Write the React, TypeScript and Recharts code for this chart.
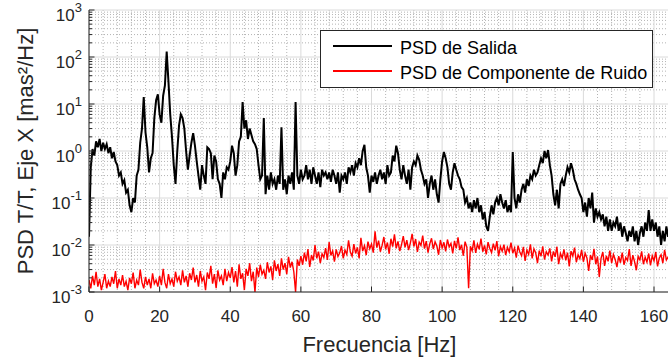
import { LineChart, Line, XAxis, YAxis, CartesianGrid } from "recharts";

const FONT = '"Liberation Sans", Arial, Helvetica, sans-serif';
const AXIS = "#262626";

// muestras cada 0.5 Hz, desde 0 Hz
const STEP_HZ = 0.5;

// PSD de Salida (mas^2/Hz), una fila = 10 Hz
const SALIDA = [
  0.015, 0.45, 1.1, 0.8, 1.6, 1.2, 1.8, 1.0, 1.5, 1.1, 1.4, 0.9, 1.2, 0.7, 0.95, 0.6, 0.5, 0.3, 0.35, 0.2,
  0.24, 0.13, 0.15, 0.07, 0.05, 0.1, 0.08, 0.3, 0.4, 1.5, 3.0, 14, 2.5, 1.2, 0.35, 0.7, 0.9, 5, 12, 16,
  6, 4, 15, 25, 130, 30, 6, 2, 0.5, 0.2, 1.0, 3.5, 6, 5, 3, 1.0, 0.4, 0.8, 1.5, 2.4,
  1.3, 0.6, 0.3, 0.15, 0.5, 0.3, 0.2, 1.2, 1.1, 0.9, 0.25, 0.8, 0.6, 0.25, 0.2, 0.1, 0.35, 0.25, 0.45, 0.4,
  0.6, 1.3, 0.9, 0.3, 0.5, 1.6, 2.0, 11, 3, 4.5, 1.8, 3.0, 2.2, 1.6, 1.4, 1.1, 0.5, 0.25, 0.3, 5,
  0.12, 0.3, 0.15, 0.35, 0.2, 0.25, 0.15, 0.3, 0.2, 3.2, 0.15, 0.25, 0.12, 0.3, 0.2, 0.35, 0.15, 11, 0.3, 0.2,
  0.4, 0.25, 0.3, 0.5, 0.25, 0.4, 0.2, 0.45, 0.3, 0.2, 0.35, 0.17, 0.4, 0.3, 0.35, 0.25, 0.35, 0.22, 0.4, 0.3,
  0.2, 0.35, 0.13, 0.3, 0.25, 0.35, 0.2, 0.45, 0.35, 0.5, 0.3, 0.55, 0.45, 0.7, 0.5, 1.0, 1.35, 0.45, 0.3, 0.13,
  0.3, 0.22, 0.35, 0.2, 0.3, 0.4, 0.25, 0.35, 0.2, 0.5, 0.3, 0.35, 0.8, 0.6, 1.3, 0.9, 0.4, 0.25, 0.5, 0.3,
  0.2, 0.4, 0.15, 0.45, 0.6, 0.5, 0.8, 0.65, 0.4, 0.3, 0.2, 0.25, 0.1, 0.2, 0.3, 0.15, 0.25, 0.12, 0.08, 0.25,
  0.6, 0.95, 0.7, 0.45, 0.2, 0.15, 0.35, 0.55, 0.4, 0.3, 0.25, 0.17, 0.15, 0.08, 0.1, 0.06, 0.08, 0.05, 0.09, 0.06,
  0.1, 0.05, 0.07, 0.035, 0.05, 0.025, 0.02, 0.04, 0.07, 0.045, 0.08, 0.1, 0.07, 0.12, 0.08, 0.06, 0.09, 0.05, 0.07, 0.05,
  0.95, 0.1, 0.06, 0.12, 0.08, 0.15, 0.2, 0.13, 0.25, 0.18, 0.3, 0.25, 0.4, 0.3, 0.35, 0.5, 0.7, 0.55, 1.0, 0.7,
  1.05, 0.5, 0.3, 0.12, 0.07, 0.15, 0.06, 0.2, 0.25, 0.18, 0.3, 0.45, 0.35, 0.55, 0.4, 0.25, 0.2, 0.15, 0.12, 0.1,
  0.05, 0.08, 0.04, 0.1, 0.06, 0.13, 0.03, 0.06, 0.04, 0.05, 0.035, 0.045, 0.025, 0.04, 0.02, 0.035, 0.02, 0.03, 0.025, 0.04,
  0.02, 0.03, 0.015, 0.025, 0.018, 0.012, 0.02, 0.015, 0.025, 0.012, 0.02, 0.01, 0.018, 0.025, 0.015, 0.03, 0.02, 0.055, 0.02, 0.035,
  0.02, 0.03, 0.015, 0.025, 0.01, 0.02, 0.012, 0.025, 0.015, 0.02,
];

// PSD de Componente de Ruido (mas^2/Hz)
const RUIDO = [
  0.0018, 0.0012, 0.0022, 0.0014, 0.0027, 0.0013, 0.0019, 0.0011, 0.0016, 0.0024, 0.0012, 0.0017, 0.0013, 0.0021, 0.0015, 0.0028, 0.0012, 0.0019, 0.0014, 0.0023,
  0.0013, 0.0017, 0.0011, 0.002, 0.0015, 0.0026, 0.0012, 0.0018, 0.0014, 0.003, 0.0016, 0.0012, 0.0021, 0.0014, 0.0019, 0.0012, 0.0025, 0.0015, 0.0018, 0.0013,
  0.0022, 0.0014, 0.0031, 0.0016, 0.0012, 0.0024, 0.0015, 0.0019, 0.0013, 0.0027, 0.0017, 0.0021, 0.0014, 0.0029, 0.0016, 0.0022, 0.0013, 0.0025, 0.0018, 0.0033,
  0.0016, 0.0023, 0.0013, 0.0028, 0.0017, 0.0021, 0.0011, 0.0026, 0.0019, 0.0036, 0.0015, 0.0024, 0.0012, 0.0029, 0.0018, 0.0022, 0.0014, 0.0031, 0.0017, 0.0026,
  0.002, 0.0034, 0.0016, 0.0028, 0.0013, 0.0039, 0.0019, 0.0025, 0.0011, 0.0031, 0.0022, 0.0041, 0.0017, 0.0027, 0.001, 0.0033, 0.0021, 0.0038, 0.0024, 0.0029,
  0.0019, 0.0043, 0.0026, 0.0035, 0.0018, 0.0047, 0.0028, 0.0039, 0.0022, 0.0052, 0.003, 0.0041, 0.0024, 0.0056, 0.0033, 0.0044, 0.0027, 0.001, 0.0049, 0.0036,
  0.0058, 0.0038, 0.0069, 0.0045, 0.0082, 0.0034, 0.0061, 0.0047, 0.0099, 0.0052, 0.0072, 0.0041, 0.0065, 0.0054, 0.0086, 0.0048, 0.0115, 0.006, 0.0075, 0.0044,
  0.0081, 0.0057, 0.0068, 0.0095, 0.0052, 0.0078, 0.0063, 0.0125, 0.0071, 0.0058, 0.0104, 0.0066, 0.0089, 0.0052, 0.0142, 0.0074, 0.0096, 0.0061, 0.0118, 0.0083,
  0.0105, 0.0069, 0.0195, 0.0088, 0.0124, 0.0072, 0.0098, 0.0148, 0.0081, 0.0113, 0.0065, 0.0136, 0.0092, 0.0168, 0.0085, 0.0119, 0.0074, 0.0102, 0.0155, 0.0089,
  0.0127, 0.0078, 0.011, 0.0172, 0.0093, 0.0134, 0.0071, 0.0115, 0.0098, 0.0158, 0.0084, 0.0121, 0.0069, 0.0106, 0.0139, 0.0082, 0.0117, 0.0095, 0.0062, 0.0128,
  0.0087, 0.0114, 0.0073, 0.0131, 0.0091, 0.0108, 0.0066, 0.0122, 0.0085, 0.0146, 0.0078, 0.0101, 0.0059, 0.0118, 0.0089, 0.0012, 0.0094, 0.0075, 0.0126, 0.0068,
  0.0104, 0.0081, 0.0137, 0.0072, 0.0098, 0.0063, 0.0115, 0.0084, 0.0069, 0.0107, 0.0077, 0.0121, 0.0058, 0.0093, 0.0074, 0.0102, 0.0061, 0.0089, 0.0071, 0.0112,
  0.0067, 0.0086, 0.0054, 0.0097, 0.0071, 0.0059, 0.0091, 0.0046, 0.0078, 0.0063, 0.0103, 0.0052, 0.0083, 0.0068, 0.0041, 0.0076, 0.0058, 0.0094, 0.0049, 0.0072,
  0.0061, 0.0085, 0.0045, 0.0073, 0.0056, 0.0092, 0.0039, 0.0066, 0.0053, 0.0081, 0.0047, 0.0069, 0.0035, 0.0074, 0.0058, 0.0088, 0.0043, 0.0062, 0.0051, 0.0079,
  0.0044, 0.0067, 0.0053, 0.0028, 0.0061, 0.0048, 0.0083, 0.0039, 0.0057, 0.0021, 0.0052, 0.0071, 0.0036, 0.0059, 0.0045, 0.0076, 0.0041, 0.0063, 0.0049, 0.0034,
  0.0058, 0.0042, 0.0069, 0.0038, 0.0054, 0.0047, 0.0082, 0.0036, 0.0061, 0.0044, 0.0029, 0.0057, 0.0048, 0.0073, 0.0039, 0.0055, 0.0043, 0.0066, 0.0037, 0.0059,
  0.0046, 0.0071, 0.0035, 0.0053, 0.0062, 0.0041, 0.0079, 0.0048, 0.0056, 0.0038,
];

const X_TICKS = [0, 20, 40, 60, 80, 100, 120, 140, 160];
const X_MINOR = [
  4, 8, 12, 16, 24, 28, 32, 36, 44, 48, 52, 56, 64, 68, 72, 76, 84, 88, 92, 96,
  104, 108, 112, 116, 124, 128, 132, 136, 144, 148, 152, 156,
];
const Y_DECADES = [0.001, 0.01, 0.1, 1, 10, 100, 1000];
const Y_EXP = ["-3", "-2", "-1", "0", "1", "2", "3"];
const Y_MINOR = Y_DECADES.slice(0, -1).flatMap((d) => [2, 3, 4, 5, 6, 7, 8, 9].map((k) => k * d));
const Y_TICKS = [...Y_DECADES, ...Y_MINOR].sort((a, b) => a - b);

const data = SALIDA.map((v, i) => ({ f: i * STEP_HZ, salida: v, ruido: RUIDO[i] }));

const decadeIndex = (v: number) => Y_DECADES.findIndex((d) => Math.abs(v - d) / d < 1e-6);

function BottomTick({ x, y, payload }: any) {
  return (
    <g>
      <line x1={x} x2={x} y1={y} y2={y - 5.5} stroke={AXIS} />
      <text x={x} y={y + 29.5} textAnchor="middle" fontSize={17} fill={AXIS} fontFamily={FONT}>
        {payload.value}
      </text>
    </g>
  );
}

function TopTick({ x, y }: any) {
  return <line x1={x} x2={x} y1={y} y2={y + 5.5} stroke={AXIS} />;
}

function LeftTick({ x, y, payload }: any) {
  const i = decadeIndex(payload.value);
  return (
    <g>
      <line x1={x} x2={x + (i >= 0 ? 5.5 : 3)} y1={y} y2={y} stroke={AXIS} />
      {i >= 0 && (
        <text x={x - 7} y={y + 11} textAnchor="end" fontSize={17} fill={AXIS} fontFamily={FONT}>
          10
          <tspan dy={-9} fontSize={13}>
            {Y_EXP[i]}
          </tspan>
        </text>
      )}
    </g>
  );
}

function RightTick({ x, y, payload }: any) {
  const major = decadeIndex(payload.value) >= 0;
  return <line x1={x} x2={x - (major ? 5.5 : 3)} y1={y} y2={y} stroke={AXIS} />;
}

function XLabel({ viewBox }: any) {
  return (
    <text
      x={viewBox.x + viewBox.width / 2}
      y={351.5}
      textAnchor="middle"
      fontSize={22}
      fill={AXIS}
      fontFamily={FONT}
    >
      Frecuencia [Hz]
    </text>
  );
}

function YLabel({ viewBox }: any) {
  const cy = viewBox.y + viewBox.height / 2;
  return (
    <text
      transform={`translate(33, ${cy}) rotate(-90)`}
      textAnchor="middle"
      fontSize={22}
      fill={AXIS}
      fontFamily={FONT}
    >
      PSD T/T, Eje X [mas²/Hz]
    </text>
  );
}

const legendItems = [
  { name: "PSD de Salida", color: "#000000", lineY: 45.7, textTop: 38.2 },
  { name: "PSD de Componente de Ruido", color: "#ff0000", lineY: 70.7, textTop: 62.7 },
];

function LegendBox() {
  return (
    <div
      style={{
        position: "absolute",
        left: 320,
        top: 30,
        width: 331,
        height: 56,
        border: `1px solid ${AXIS}`,
        background: "#fff",
        zIndex: 2,
      }}
    >
      {legendItems.map((it) => (
        <div key={it.name}>
          <div
            style={{
              position: "absolute",
              left: 12,
              top: it.lineY - 30 - 2,
              width: 59,
              height: 2,
              background: it.color,
            }}
          />
          <div
            style={{
              position: "absolute",
              left: 79,
              top: it.textTop - 31,
              fontSize: 18,
              lineHeight: "20px",
              fontFamily: FONT,
              color: "#000",
              whiteSpace: "nowrap",
            }}
          >
            {it.name}
          </div>
        </div>
      ))}
    </div>
  );
}

export default function App() {
  return (
    <div
      style={{
        position: "fixed",
        left: 0,
        top: 0,
        width: 668,
        height: 358,
        overflow: "hidden",
        background: "#fff",
      }}
    >
      <LineChart
        width={700}
        height={358}
        data={data}
        margin={{ top: 10, right: 30.1, bottom: 0, left: 0 }}
      >
        <CartesianGrid
          stroke="#b4b4b4"
          strokeDasharray="1 2"
          horizontalValues={Y_MINOR}
          verticalValues={X_MINOR}
          syncWithTicks
        />
        <CartesianGrid
          stroke="#dadada"
          horizontalValues={Y_DECADES}
          verticalValues={X_TICKS}
          syncWithTicks
        />
        <XAxis
          dataKey="f"
          type="number"
          domain={[0, 164.5]}
          ticks={X_TICKS}
          interval={0}
          allowDataOverflow
          height={66}
          tickSize={0}
          tickMargin={0}
          tickLine={false}
          axisLine={{ stroke: AXIS }}
          tick={<BottomTick />}
          label={<XLabel />}
        />
        <XAxis
          xAxisId="top"
          orientation="top"
          dataKey="f"
          type="number"
          domain={[0, 164.5]}
          ticks={X_TICKS}
          interval={0}
          allowDataOverflow
          height={0}
          tickSize={0}
          tickMargin={0}
          tickLine={false}
          axisLine={{ stroke: AXIS }}
          tick={<TopTick />}
        />
        <YAxis
          type="number"
          scale="log"
          domain={[0.001, 1000]}
          ticks={Y_TICKS}
          interval={0}
          allowDataOverflow
          width={89}
          tickSize={0}
          tickMargin={0}
          tickLine={false}
          axisLine={{ stroke: AXIS }}
          tick={<LeftTick />}
          label={<YLabel />}
        />
        <YAxis
          yAxisId="right"
          orientation="right"
          type="number"
          scale="log"
          domain={[0.001, 1000]}
          ticks={Y_TICKS}
          interval={0}
          allowDataOverflow
          width={0}
          tickSize={0}
          tickMargin={0}
          tickLine={false}
          axisLine={{ stroke: AXIS }}
          tick={<RightTick />}
        />
        <Line
          dataKey="salida"
          name="PSD de Salida"
          stroke="#000000"
          strokeWidth={2}
          dot={false}
          isAnimationActive={false}
        />
        <Line
          dataKey="ruido"
          name="PSD de Componente de Ruido"
          stroke="#ff0000"
          strokeWidth={1.4}
          dot={false}
          isAnimationActive={false}
        />
      </LineChart>
      <LegendBox />
    </div>
  );
}
